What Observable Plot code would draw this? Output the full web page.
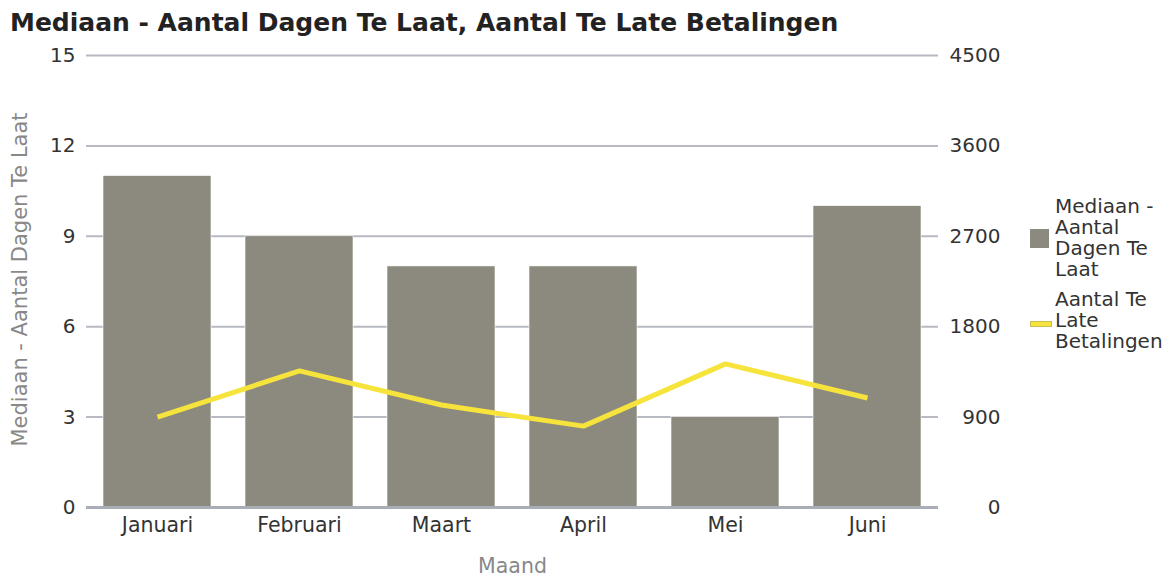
<!DOCTYPE html>
<html>
<head>
<meta charset="utf-8">
<script src="https://cdn.jsdelivr.net/npm/d3@7"></script>
<script src="https://cdn.jsdelivr.net/npm/@observablehq/plot@0.6"></script>
<style>
  html, body { margin: 0; padding: 0; background: #ffffff; }
  #wrap { position: relative; width: 1176px; height: 577px; overflow: hidden; font-family: "DejaVu Sans", sans-serif; }
  #title { position: absolute; left: 10px; top: 10px; font-size: 25px; line-height: 25px; font-weight: bold; color: #222; white-space: nowrap; }
  #chart { position: absolute; left: 0; top: 44px; }
  .leg { position: absolute; left: 1055px; font-size: 20px; line-height: 21px; color: #333; }
  .sw { position: absolute; }
</style>
</head>
<body>
<div id="wrap">
  <div id="title"></div>
  <div id="chart"></div>
  <div class="sw" id="sw1" style="left:1030px; top:229px; width:19px; height:19px; background:#8c8a7e;"></div>
  <div class="leg" id="leg1" style="top:196px;"></div>
  <div class="sw" id="sw2" style="left:1030px; top:321px; width:20px; height:4px; background:#f6e43c; border:0.5px solid #c9bd55;"></div>
  <div class="leg" id="leg2" style="top:289px;"></div>
</div>
<script>
const titleText = "Mediaan - Aantal Dagen Te Laat, Aantal Te Late Betalingen";
const months = ["Januari", "Februari", "Maart", "April", "Mei", "Juni"];
const medianDaysLate = [11, 9, 8, 8, 3, 10];
const latePayments = [900, 1360, 1020, 810, 1430, 1090];
const leftTicks = [0, 3, 6, 9, 12, 15];
const rightTicks = [0, 900, 1800, 2700, 3600, 4500];
const seriesNames = ["Mediaan -\nAantal\nDagen Te\nLaat", "Aantal Te\nLate\nBetalingen"];
const xLabel = "Maand";
const yLabel = "Mediaan - Aantal Dagen Te Laat";

const ratio = rightTicks[rightTicks.length - 1] / leftTicks[leftTicks.length - 1];
const rows = months.map((m, i) => ({month: m, days: medianDaysLate[i], late: latePayments[i]}));

document.getElementById("title").textContent = titleText;
document.getElementById("leg1").innerHTML = seriesNames[0].split("\n").join("<br>");
document.getElementById("leg2").innerHTML = seriesNames[1].split("\n").join("<br>");

const chart = Plot.plot({
  width: 1176,
  height: 533,
  marginLeft: 86,
  marginRight: 238,
  marginTop: 11,
  marginBottom: 70,
  style: {fontFamily: "DejaVu Sans", fontSize: "20px", color: "#333", background: "#ffffff", overflow: "visible"},
  x: {domain: months, paddingInner: 0.24, paddingOuter: 0.12, align: 0.5},
  y: {domain: [leftTicks[0], leftTicks[leftTicks.length - 1]]},
  marks: [
    Plot.gridY(leftTicks, {stroke: "#b7bac2", strokeOpacity: 1, strokeWidth: 2}),
    Plot.barY(rows, {x: "month", y: "days", fill: "#8c8a7e", stroke: "#ffffff", strokeWidth: 0.6}),
    Plot.ruleY([0], {stroke: "#a9adb5", strokeWidth: 3}),
    Plot.line(rows, {x: "month", y: d => d.late / ratio, stroke: "#f6e43c", strokeWidth: 5, strokeLinejoin: "miter", strokeLinecap: "butt"}),
    Plot.axisY(leftTicks, {anchor: "left", tickSize: 0, tickPadding: 11, fill: "#333", label: null}),
    Plot.axisY(leftTicks, {anchor: "right", tickSize: 0, tickPadding: 0, textAnchor: "end", dx: 62, fill: "#333",
      tickFormat: d => String(rightTicks[leftTicks.indexOf(d)]), label: null}),
    Plot.axisX({anchor: "bottom", tickSize: 0, tickPadding: 10, fill: "#333", fontSize: 20.5, label: null}),
    Plot.text([yLabel], {frameAnchor: "left", textAnchor: "middle", lineAnchor: "middle", rotate: -90, dx: -66, dy: -2, fill: "#888", fontSize: 21}),
    Plot.text([xLabel], {frameAnchor: "bottom", textAnchor: "middle", lineAnchor: "middle", dy: 59, fill: "#888", fontSize: 20.5})
  ]
});
document.getElementById("chart").appendChild(chart);
</script>
</body>
</html>
